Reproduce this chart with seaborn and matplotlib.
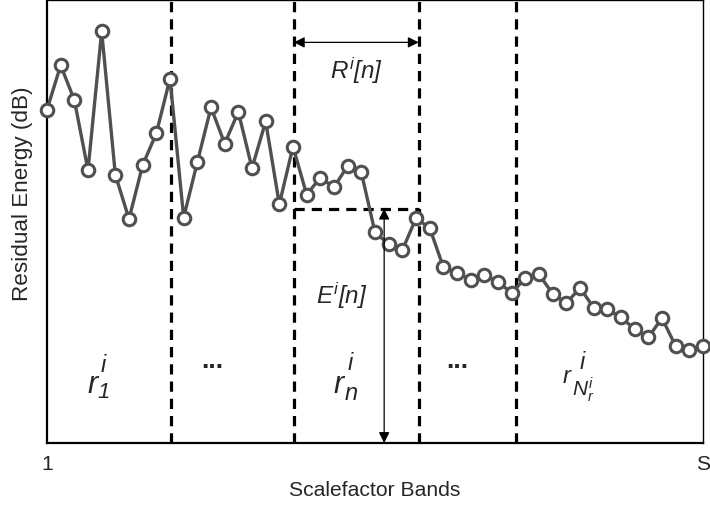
import numpy as np
import pandas as pd
import matplotlib
matplotlib.use('Agg')
import matplotlib.pyplot as plt
import seaborn as sns

# residual energy per scalefactor band (dB)
bands = np.arange(1, 50)
energy = [45.1, 51.1, 46.4, 36.9, 55.7, 36.3, 30.3, 37.6, 41.9, 49.3,
          30.5, 38.0, 45.4, 40.5, 44.8, 37.2, 43.5, 32.3, 40.1, 33.6,
          35.9, 34.6, 37.5, 36.6, 28.5, 26.9, 26.1, 30.4, 29.1, 23.8,
          23.0, 22.1, 22.7, 21.8, 20.3, 22.3, 22.8, 20.2, 18.9, 21.0,
          18.3, 18.1, 17.0, 15.4, 14.3, 16.9, 13.1, 12.6, 13.1]

# region boundaries (band index) and annotation values
boundaries = [10.07, 19.06, 28.2, 35.35]
region_start, region_end = 19.06, 28.2
threshold = 31.7      # E^i[n]
r_arrow_y = 54.2
e_arrow_x = 25.67

# region names r^i_k: base letter, superscript, subscript
label_sub = ['1', 'n', r'$N^i_r$']
label_x = [4.0, 21.93, 38.76]
label_y = [6.9, 6.9, 8.24]
dots_x = [13.1, 31.0]
dots_y = 10.3

df = pd.DataFrame({'band': bands, 'energy': energy})

sns.set_style('white')
plt.rcParams['font.family'] = ['Liberation Sans', 'DejaVu Sans']
plt.rcParams['mathtext.fontset'] = 'custom'
plt.rcParams['mathtext.rm'] = 'Liberation Sans:italic'
plt.rcParams['mathtext.it'] = 'Liberation Sans:italic'
plt.rcParams['mathtext.bf'] = 'Liberation Sans:bold'
plt.rcParams['mathtext.default'] = 'it'

fig = plt.figure(figsize=(7.1, 5.1), dpi=100)
ax = fig.add_axes([47/710, 66/510, 656/710, 443.5/510])

# dashed region boundaries
for b in boundaries:
    ax.axvline(b, color='black', lw=2.3, linestyle=(0, (3.2, 2.2)), zorder=1)
ax.plot([region_start, region_end], [threshold, threshold], color='black',
        lw=2.3, linestyle=(0, (3.2, 2.2)), zorder=1)

sns.lineplot(data=df, x='band', y='energy', ax=ax, color='#505050', lw=2.4,
             marker='o', markersize=9, markerfacecolor='white',
             markeredgecolor='#505050', markeredgewidth=2.2, zorder=3,
             clip_on=False)

# R^i[n] width arrow
ax.annotate('', xy=(region_start, r_arrow_y), xytext=(region_end, r_arrow_y),
            arrowprops=dict(arrowstyle='<|-|>', color='black', lw=0.9,
                            mutation_scale=16, shrinkA=0, shrinkB=0))
ax.text((region_start + region_end) / 2, 50.5, r'$R^i$[n]', style='italic',
        ha='center', va='center', fontsize=17.5)

# E^i[n] height arrow
ax.annotate('', xy=(e_arrow_x, threshold), xytext=(e_arrow_x, 0),
            arrowprops=dict(arrowstyle='<|-|>', color='black', lw=0.9,
                            mutation_scale=16, shrinkA=0, shrinkB=0))
ax.text(22.6, 20.1, r'$E^i$[n]', style='italic', ha='center', va='center',
        fontsize=17.5)

# region names, built from pieces so the scripts stay large
base_size = [22, 22, 17]
sup_off = [(13, 21), (15, 23), (17, 14)]
sub_off = [(9, -5), (12, -7), (9, -13)]
sub_size = [16, 17, 15]
for k in range(3):
    pos = (label_x[k], label_y[k])
    kw = dict(xycoords='data', textcoords='offset pixels', style='italic',
              ha='left', va='baseline')
    ax.annotate('r', pos, xytext=(0, 0), fontsize=base_size[k], **kw)
    ax.annotate('i', pos, xytext=sup_off[k], fontsize=17, **kw)
    ax.annotate(label_sub[k], pos, xytext=sub_off[k], fontsize=sub_size[k], **kw)
for dx in dots_x:
    ax.text(dx, dots_y, '...', ha='center', va='baseline', fontsize=19,
            fontweight='bold')

ax.set_xlim(1, 49)
ax.set_ylim(0, 60)
ax.set_xticks([1, 49])
ax.set_xticklabels(['1', 'S'])
ax.set_yticks([])
ax.tick_params(axis='x', length=0, labelsize=15.2, pad=8)
ax.set_xlabel('Scalefactor Bands', fontsize=15.2, labelpad=5)
ax.set_ylabel('Residual Energy (dB)', fontsize=16.2)
ax.yaxis.set_label_coords(-0.022, 0.565)

for side in ['left', 'bottom']:
    ax.spines[side].set_linewidth(1.6)
for side in ['top', 'right']:
    ax.spines[side].set_linewidth(1.0)
for s in ax.spines.values():
    s.set_color('black')

fig.savefig('out.png', dpi=100)
